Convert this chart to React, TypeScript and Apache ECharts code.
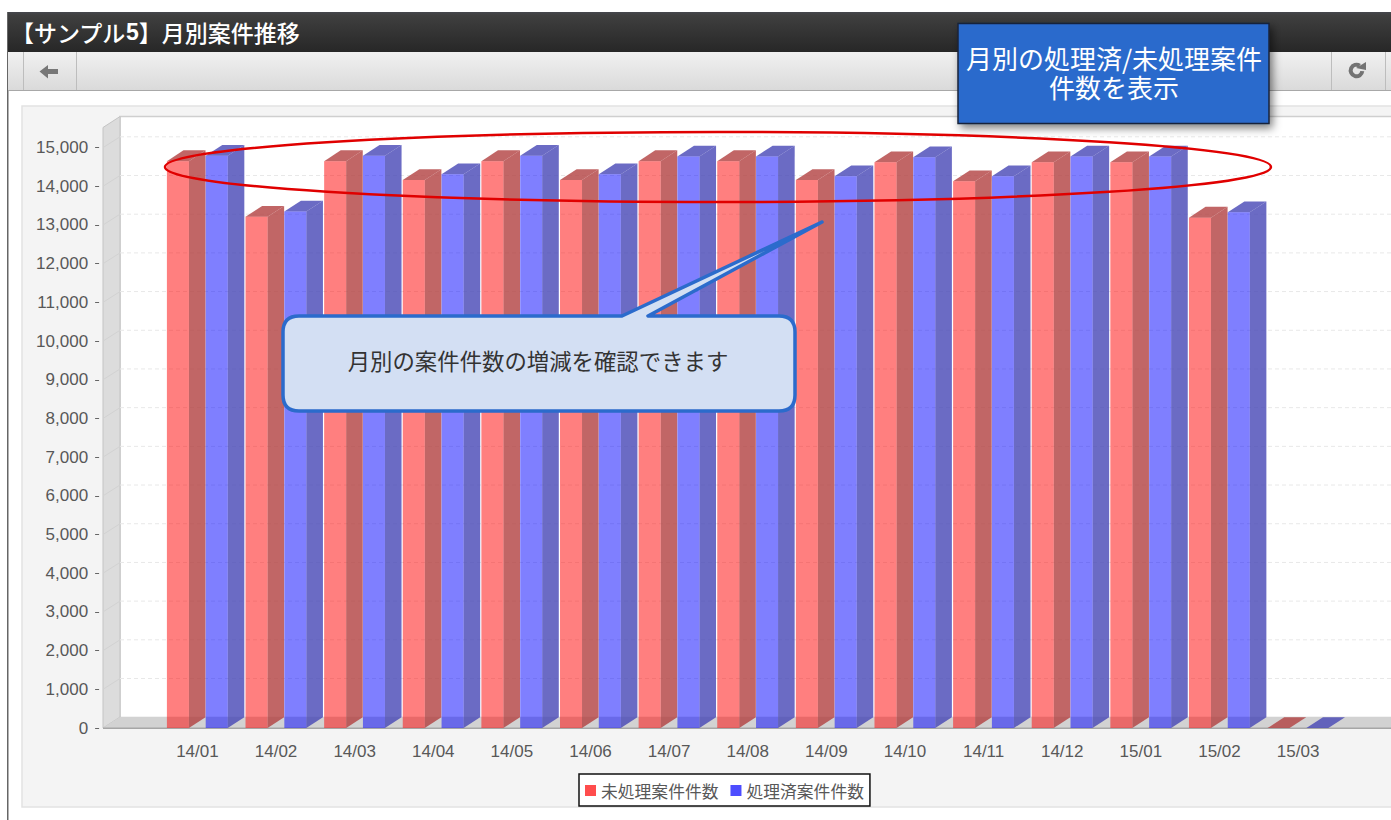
import React, { useEffect, useRef } from "react";
import * as echarts from "echarts";

const categories = ["14/01","14/02","14/03","14/04","14/05","14/06","14/07","14/08","14/09","14/10","14/11","14/12","15/01","15/02","15/03"];
const unprocessed = [14650,13210,14650,14160,14650,14160,14650,14650,14160,14620,14130,14620,14620,13190,0];
const processed = [14790,13350,14790,14310,14790,14310,14770,14770,14260,14750,14260,14770,14770,13330,0];
const gridTicks = [1000,2000,3000,4000,5000,6000,7000,8000,9000,10000,11000,12000,13000,14000,15000];
const seriesNames = ["未処理案件件数","処理済案件件数"];

const JP = '"Noto Sans CJK JP", "Noto Sans", sans-serif';
const LAT = '"Liberation Sans", Arial, sans-serif';
const DX = 16.6, DY = 10.8;

echarts.graphic.registerShape(
  "callout",
  echarts.graphic.extendPath(
    "M299 316 L622 316 L822 222 L648 316 L779 316 Q795 316 795 332 L795 395 Q795 411 779 411 L299 411 Q283 411 283 395 L283 332 Q283 316 299 316 Z",
    {}
  )
);

function barRenderer(offsetRatio: number, front: string, dark: string) {
  return (_p: any, api: any) => {
    const base = api.coord([api.value(0), 0]);
    const top = api.coord([api.value(0), api.value(1)]);
    const band = api.size([1, 0])[0];
    const x0 = base[0] + offsetRatio * band;
    const w = band * 0.28;
    const x1 = x0 + w;
    const by = base[1], ty = top[1];
    const children: any[] = [
      { type: "polygon", shape: { points: [[x1, by], [x1 + DX, by - DY], [x1 + DX, ty - DY], [x1, ty]] }, style: { fill: dark } },
      { type: "polygon", shape: { points: [[x0, ty], [x1, ty], [x1 + DX, ty - DY], [x0 + DX, ty - DY]] }, style: { fill: dark } },
    ];
    if (by - ty > 0.5) children.push({ type: "rect", shape: { x: x0, y: ty, width: w, height: by - ty }, style: { fill: front } });
    return { type: "group", children };
  };
}

function gridRenderer(_p: any, api: any) {
  const y = api.coord([0, api.value(1)])[1];
  return {
    type: "group",
    children: [
      { type: "line", shape: { x1: 120, y1: y - DY, x2: 1391, y2: y - DY }, style: { stroke: "#e8e8e8", lineWidth: 1, lineDash: [4, 3] } },
      { type: "line", shape: { x1: 103, y1: y, x2: 120, y2: y - DY }, style: { stroke: "#d2d2d2", lineWidth: 1 } },
    ],
  };
}

const chrome: any[] = [
  { type: "rect", z: 0, shape: { x: 7, y: 12, width: 1.5, height: 808 }, style: { fill: "#666" } },
  { type: "rect", z: 0, shape: { x: 8, y: 12, width: 1383, height: 40 }, style: { fill: new echarts.graphic.LinearGradient(0, 0, 0, 1, [{ offset: 0, color: "#45474d" }, { offset: 0.08, color: "#3f3f3f" }, { offset: 1, color: "#272727" }]) } },
  { type: "rect", z: 0, shape: { x: 8, y: 52, width: 1383, height: 38 }, style: { fill: new echarts.graphic.LinearGradient(0, 0, 0, 1, [{ offset: 0, color: "#f1f1f1" }, { offset: 1, color: "#dadada" }]) } },
  { type: "rect", z: 0, shape: { x: 8, y: 90, width: 1383, height: 1 }, style: { fill: "#a8a8a8" } },
  { type: "rect", z: 0, shape: { x: 23, y: 52, width: 1, height: 38 }, style: { fill: "#bdbdbd" } },
  { type: "rect", z: 0, shape: { x: 76, y: 52, width: 1, height: 38 }, style: { fill: "#bdbdbd" } },
  { type: "rect", z: 0, shape: { x: 1331, y: 52, width: 1, height: 38 }, style: { fill: "#bdbdbd" } },
  { type: "rect", z: 0, shape: { x: 1385, y: 52, width: 1, height: 38 }, style: { fill: "#bdbdbd" } },
  { type: "polygon", z: 0, shape: { points: [[39.5, 71.5], [48, 65], [48, 69], [58, 69], [58, 74], [48, 74], [48, 78.5]] }, style: { fill: "#777" } },
  { type: "arc", z: 0, shape: { cx: 1356.5, cy: 70.5, r: 5.8, startAngle: 0.1, endAngle: 5.3, clockwise: true }, style: { stroke: "#737373", lineWidth: 4, fill: "none" } },
  { type: "polygon", z: 0, shape: { points: [[1356, 68], [1366, 62], [1366, 70]] }, style: { fill: "#737373" } },
  {
    type: "text", z: 0, x: 11, y: 32,
    style: {
      text: "{a|【サンプル}{b|5}{a|】月別案件推移}",
      textVerticalAlign: "middle",
      rich: {
        a: { fill: "#fff", font: `500 23px ${JP}` },
        b: { fill: "#fff", font: `700 23px ${LAT}` },
      },
    },
  },
  { type: "rect", z: 0, shape: { x: 22, y: 106, width: 1380, height: 701 }, style: { fill: "#f4f4f4", stroke: "#e2e2e2", lineWidth: 1.5 } },
  { type: "rect", z: 0, shape: { x: 120, y: 116.5, width: 1280, height: 601 }, style: { fill: "#fff", stroke: "#cfcfcf", lineWidth: 1.5 } },
  { type: "polygon", z: 0, shape: { points: [[103, 127.5], [120, 116.5], [120, 717], [103, 728]] }, style: { fill: "#dcdcdc", stroke: "#c4c4c4", lineWidth: 1 } },
  { type: "polygon", z: 0, shape: { points: [[103, 728], [120, 717], [1391, 717], [1391, 728]] }, style: { fill: "#d2d2d2" } },
  { type: "rect", z: 0, shape: { x: 103, y: 727.6, width: 1288, height: 1.4 }, style: { fill: "#a6a6a6" } },
];

const annotations: any[] = [
  { type: "rect", z: 100, shape: { x: 958, y: 23.5, width: 311, height: 100 }, style: { fill: "#2b6bcc", stroke: "#17233a", lineWidth: 1.5, shadowColor: "rgba(0,0,0,0.5)", shadowBlur: 9, shadowOffsetX: 3, shadowOffsetY: 4 } },
  { type: "text", z: 101, x: 1114, y: 71.5, style: { text: "月別の処理済/未処理案件\n件数を表示", fill: "#fff", font: `26px ${JP}`, lineHeight: 29, textAlign: "center", textVerticalAlign: "middle" } },
  { type: "ellipse", z: 100, shape: { cx: 718, cy: 167, rx: 553, ry: 35 }, style: { fill: "none", stroke: "#e00000", lineWidth: 2.5 } },
  { type: "callout", z: 100, x: 0, y: 0, style: { fill: "#d3dff3", stroke: "#2b6bcc", lineWidth: 3.5, lineJoin: "round" } },
  { type: "text", z: 101, x: 538, y: 360, style: { text: "月別の案件件数の増減を確認できます", fill: "#333", font: `22.4px ${JP}`, textAlign: "center", textVerticalAlign: "middle" } },
];

export default function App() {
  const ref = useRef<HTMLDivElement>(null);
  useEffect(() => {
    const chart = echarts.init(ref.current!, undefined, { renderer: "svg" });
    const bandRatio = [-0.388, 0.1055];
    chart.setOption({
      animation: false,
      backgroundColor: "#fff",
      grid: { left: 158.1, top: 147.6, width: 1179.3, height: 580.4 },
      xAxis: {
        type: "category",
        z: 1,
        data: categories,
        axisLine: { show: false },
        axisTick: { show: false },
        splitLine: { show: false },
        axisLabel: { interval: 0, margin: 15, color: "#585858", fontSize: 17, fontFamily: LAT },
      },
      yAxis: {
        type: "value",
        z: 1,
        min: 0,
        max: 15000,
        interval: 1000,
        offset: 59,
        axisLine: { show: false },
        axisTick: { show: true, length: 4, lineStyle: { color: "#666" } },
        splitLine: { show: false },
        axisLabel: {
          margin: 11,
          color: "#585858",
          fontSize: 17,
          fontFamily: LAT,
          formatter: (v: number) => v.toLocaleString("en-US"),
        },
      },
      legend: {
        data: seriesNames,
        left: 579,
        top: 774,
        orient: "horizontal",
        backgroundColor: "#fff",
        borderColor: "#111",
        borderWidth: 1.5,
        padding: [7, 6, 6, 6],
        itemWidth: 11,
        itemHeight: 11,
        itemGap: 12,
        icon: "rect",
        textStyle: { color: "#585858", fontSize: 16.8, fontFamily: JP, lineHeight: 19 },
      },
      graphic: { elements: [...chrome, ...annotations] },
      series: [
        {
          type: "custom",
          name: "grid",
          z: 1,
          silent: true,
          encode: { x: 0, y: 1 },
          data: gridTicks.map((t) => [0, t]),
          renderItem: gridRenderer,
        },
        {
          type: "custom",
          name: seriesNames[0],
          z: 2,
          itemStyle: { color: "#ff4d4d" },
          encode: { x: 0, y: 1 },
          data: unprocessed.map((v, i) => [i, v]),
          renderItem: barRenderer(bandRatio[0], "rgba(255,0,0,0.5)", "rgba(178,64,64,0.8)"),
        },
        {
          type: "custom",
          name: seriesNames[1],
          z: 2,
          itemStyle: { color: "#4d4dff" },
          encode: { x: 0, y: 1 },
          data: processed.map((v, i) => [i, v]),
          renderItem: barRenderer(bandRatio[1], "rgba(0,0,255,0.5)", "rgba(70,70,181,0.8)"),
        },
      ],
    });
    return () => chart.dispose();
  }, []);
  return <div ref={ref} style={{ position: "absolute", left: 0, top: 0, width: 1391, height: 820 }} />;
}
